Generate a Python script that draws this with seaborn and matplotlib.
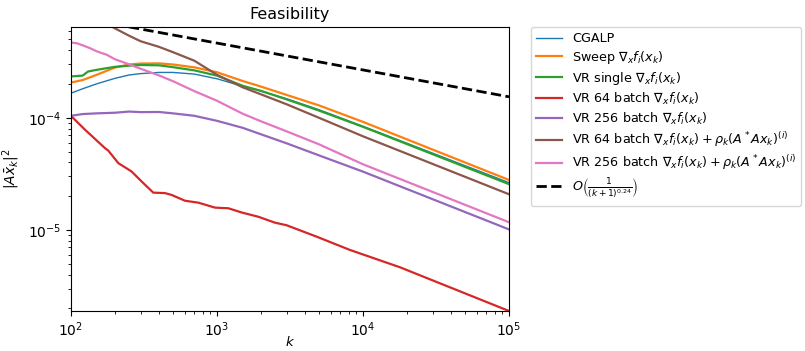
import matplotlib
matplotlib.use("Agg")
import matplotlib.pyplot as plt
import seaborn as sns
import pandas as pd

# ---- data ----
k_grid = [100, 120, 150, 200, 250, 300, 400, 500, 700, 1000, 1500, 2000, 3000, 5000, 10000, 100000]

cgalp = [1.66e-4, 1.815e-4, 2.01e-4, 2.25e-4, 2.41e-4, 2.48e-4, 2.54e-4, 2.54e-4, 2.455e-4,
         2.23e-4, 1.91e-4, 1.73e-4, 1.48e-4, 1.18e-4, 8.4e-5, 2.64e-5]
sweep = [2.065e-4, 2.17e-4, 2.42e-4, 2.81e-4, 2.99e-4, 3.05e-4, 3.06e-4, 2.99e-4, 2.82e-4,
         2.55e-4, 2.13e-4, 1.90e-4, 1.60e-4, 1.29e-4, 9.2e-5, 2.79e-5]
k_vr_single = [100, 120, 131, 150, 200, 250, 300, 400, 500, 700, 1000, 1500, 2000, 3000, 5000, 10000, 100000]
vr_single = [2.34e-4, 2.38e-4, 2.59e-4, 2.68e-4, 2.85e-4, 2.92e-4, 2.96e-4, 2.94e-4, 2.83e-4, 2.65e-4,
             2.38e-4, 1.93e-4, 1.74e-4, 1.46e-4, 1.16e-4, 8.31e-5, 2.56e-5]
k_vr64 = [100, 125, 171, 180, 211, 260, 305, 366, 440, 489, 604, 745, 969, 1195, 1476, 1919,
          2495, 3000, 4815, 8150, 17920, 100000]
vr64 = [1.04e-4, 7.81e-5, 5.36e-5, 5.1e-5, 3.94e-5, 3.32e-5, 2.70e-5, 2.15e-5, 2.13e-5, 2.05e-5,
        1.82e-5, 1.75e-5, 1.58e-5, 1.56e-5, 1.43e-5, 1.31e-5, 1.16e-5, 1.10e-5, 8.7e-6, 6.62e-6,
        4.64e-6, 1.89e-6]
vr256 = [1.042e-4, 1.08e-4, 1.096e-4, 1.11e-4, 1.137e-4, 1.124e-4, 1.127e-4, 1.096e-4, 1.042e-4,
         9.4e-5, 8.14e-5, 7.13e-5, 5.92e-5, 4.62e-5, 3.31e-5, 1.01e-5]
vr64_rho = [1.06e-3, 9.23e-4, 7.82e-4, 6.28e-4, 5.4e-4, 4.82e-4, 4.3e-4, 3.85e-4, 3.23e-4,
            2.42e-4, 1.87e-4, 1.62e-4, 1.32e-4, 1.0e-4, 6.84e-5, 2.08e-5]
k_vr256_rho = [100, 110, 120, 135, 150, 175, 200, 250, 300, 400, 500, 700, 1000, 1500, 2000, 3000,
               5000, 10000, 100000]
vr256_rho = [4.70e-4, 4.62e-4, 4.44e-4, 4.18e-4, 3.92e-4, 3.66e-4, 3.33e-4, 3.0e-4, 2.74e-4, 2.39e-4,
             2.12e-4, 1.73e-4, 1.42e-4, 1.087e-4, 9.31e-5, 7.57e-5, 5.80e-5, 3.85e-5, 1.17e-5]
k_rate = [100, 100000]
rate = [8.06e-4, 1.54e-4]

labels = [
    "CGALP",
    r"Sweep $\nabla_x f_i(x_k)$",
    r"VR single $\nabla_x f_i(x_k)$",
    r"VR 64 batch $\nabla_x f_i(x_k)$",
    r"VR 256 batch $\nabla_x f_i(x_k)$",
    r"VR 64 batch $\nabla_x f_i(x_k) + \rho_k(A^*Ax_k)^{(i)}$",
    r"VR 256 batch $\nabla_x f_i(x_k) + \rho_k(A^*Ax_k)^{(i)}$",
    r"$O\left(\frac{1}{(k+1)^{0.24}}\right)$",
]

series = [
    (k_grid, cgalp),
    (k_grid, sweep),
    (k_vr_single, vr_single),
    (k_vr64, vr64),
    (k_grid, vr256),
    (k_grid, vr64_rho),
    (k_vr256_rho, vr256_rho),
]

palette = sns.color_palette("tab10")

fig = plt.figure(figsize=(8.05, 3.51), dpi=100)
ax = fig.add_axes([71 / 805, 1 - 311 / 351, (509 - 71) / 805, (311 - 27) / 351])

for i, ((kk, vv), lab) in enumerate(zip(series, labels[:7])):
    df = pd.DataFrame({"k": kk, "v": vv})
    sns.lineplot(data=df, x="k", y="v", ax=ax, color=palette[i], label=lab,
                 linewidth=1.0 if i == 0 else 1.6, estimator=None, sort=False)

df_rate = pd.DataFrame({"k": k_rate, "v": rate})
sns.lineplot(data=df_rate, x="k", y="v", ax=ax, color="k", linestyle="--", linewidth=2.0,
             label=labels[7], estimator=None)

ax.set_xscale("log")
ax.set_yscale("log")
ax.set_xlim(100, 1e5)
ax.set_ylim(1.89e-6, 6.46e-4)
ax.set_title("Feasibility", fontsize=11.5)
ax.set_xlabel(r"$k$", labelpad=-3, fontsize=9.5)
ax.set_ylabel(r"$|A\bar{x}_k|^2$")
ax.legend(bbox_to_anchor=(1.05, 1), loc="upper left", borderaxespad=0,
          fontsize=9.2, labelspacing=0.3, handlelength=2.0)

fig.savefig("out.png", dpi=100)
